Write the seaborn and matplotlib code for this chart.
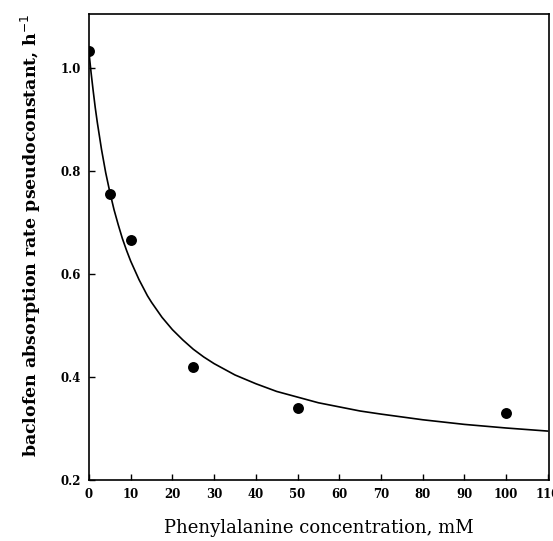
import numpy as np
import pandas as pd
import matplotlib
matplotlib.use("Agg")
import matplotlib.pyplot as plt
import seaborn as sns

# Observed data points
conc = [0, 5, 10, 25, 50, 100]
rate = [1.033, 0.756, 0.667, 0.420, 0.339, 0.330]

# Fitted curve, values
curve_x = [0, 0.5, 1, 1.5, 2, 3, 4, 5, 6, 7, 8, 9, 10, 12, 14, 15, 17.5, 20, 22.5, 25, 27.5,
           30, 32.5, 35, 40, 45, 50, 55, 60, 65, 70, 80, 90, 100, 110]
curve_y = [1.030, 0.991, 0.956, 0.923, 0.894, 0.842, 0.797, 0.759, 0.725, 0.696, 0.669, 0.646,
           0.625, 0.589, 0.558, 0.545, 0.516, 0.492, 0.472, 0.454, 0.439,
           0.426, 0.415, 0.404, 0.387, 0.372, 0.361, 0.350, 0.342, 0.334, 0.328, 0.317, 0.308,
           0.301, 0.295]

x_ticks = [0, 10, 20, 30, 40, 50, 60, 70, 80, 90, 100, 110]
y_ticks = [0.2, 0.4, 0.6, 0.8, 1.0]

sns.set_theme(style="ticks")
plt.rcParams['font.family'] = ['DejaVu Serif']
plt.rcParams['text.color'] = 'black'
plt.rcParams['axes.labelcolor'] = 'black'
plt.rcParams['xtick.color'] = 'black'
plt.rcParams['ytick.color'] = 'black'

fig = plt.figure(figsize=(5.53, 5.41), dpi=100)
ax = fig.add_axes([89/553, 61/541, 460/553, 466/541])

pts = pd.DataFrame({"conc": conc, "rate": rate})
cur = pd.DataFrame({"x": curve_x, "y": curve_y})

sns.lineplot(data=cur, x="x", y="y", ax=ax, color="black", linewidth=1.2, sort=True)
sns.scatterplot(data=pts, x="conc", y="rate", ax=ax, color="black", s=62, edgecolor="black", linewidth=0, zorder=5)

ax.set_xlim(0, 110.3)
ax.set_ylim(0.2, 1.105)
ax.set_xticks(x_ticks)
ax.set_xticklabels([str(t) for t in x_ticks])
ax.set_yticks(y_ticks)
ax.set_yticklabels([f"{t:.1f}" for t in y_ticks])
ax.tick_params(direction="in", length=4, width=1, labelsize=8.5, pad=6, colors="black")
for lab in ax.get_xticklabels() + ax.get_yticklabels():
    lab.set_fontweight("bold")
for sp in ax.spines.values():
    sp.set_visible(True)
    sp.set_linewidth(1.2)
    sp.set_color("black")

ax.set_xlabel("Phenylalanine concentration, mM", fontsize=13, labelpad=13, color="black")
ax.set_ylabel("baclofen absorption rate pseudoconstant, h$^{-1}$", fontsize=12.5, fontweight="bold",
              labelpad=12, color="black")
ax.yaxis.label.set_y(0.526)

fig.savefig("out.png", dpi=100)
